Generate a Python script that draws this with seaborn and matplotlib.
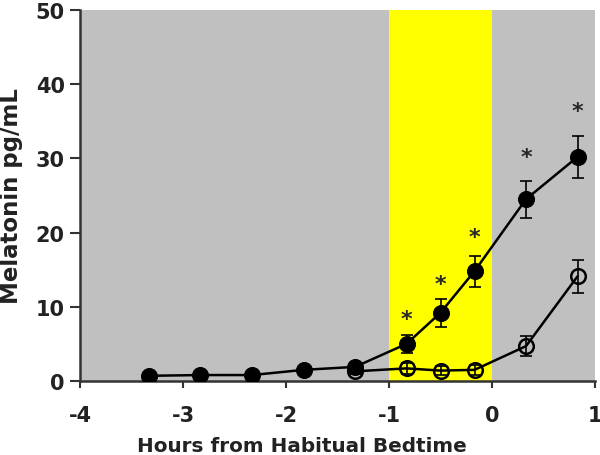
import matplotlib
matplotlib.use("Agg")
import matplotlib.pyplot as plt
import seaborn as sns
import pandas as pd
import numpy as np

# Data
hours_filled = [-3.33, -2.83, -2.33, -1.83, -1.33, -0.83, -0.50, -0.17, 0.33, 0.83]
mel_filled = [0.7, 0.8, 0.8, 1.5, 1.9, 5.0, 9.2, 14.8, 24.5, 30.2]
err_filled = [0.3, 0.3, 0.3, 0.4, 0.5, 1.2, 1.9, 2.1, 2.5, 2.8]

hours_open = [-1.33, -0.83, -0.50, -0.17, 0.33, 0.83]
mel_open = [1.3, 1.7, 1.4, 1.5, 4.7, 14.1]
err_open = [0.4, 0.7, 0.6, 0.7, 1.3, 2.2]

star_x = [-0.83, -0.50, -0.17, 0.33, 0.83]
star_y = [8.4, 13.1, 19.4, 30.2, 36.4]

x_ticks = [-4, -3, -2, -1, 0, 1]
y_ticks = [0, 10, 20, 30, 40, 50]

sns.set_style("ticks")
plt.rcParams['font.family'] = ['DejaVu Sans']
plt.rcParams['font.weight'] = 'bold'

fig = plt.figure(figsize=(6, 4.56), dpi=100)
ax = fig.add_axes([0.1333, 0.1623, 0.8584, 0.8136])
ax.set_facecolor('#c0c0c0')
ax.axvspan(-1, 0, color='#ffff00', zorder=0, lw=0)

df_f = pd.DataFrame({'h': hours_filled, 'm': mel_filled})
df_o = pd.DataFrame({'h': hours_open, 'm': mel_open})

ax.errorbar(hours_open, mel_open, yerr=err_open, fmt='none', ecolor='black',
            elinewidth=1.2, capsize=4, capthick=1.2, zorder=2)
sns.lineplot(data=df_o, x='h', y='m', ax=ax, color='black', lw=1.8,
             marker='o', markersize=10.5, markerfacecolor='none',
             markeredgecolor='black', markeredgewidth=1.8, zorder=3)
ax.errorbar(hours_filled, mel_filled, yerr=err_filled, fmt='none', ecolor='black',
            elinewidth=1.2, capsize=4, capthick=1.2, zorder=4)
sns.lineplot(data=df_f, x='h', y='m', ax=ax, color='black', lw=1.8,
             marker='o', markersize=11.5, markerfacecolor='black',
             markeredgecolor='black', zorder=5)

for sx, sy in zip(star_x, star_y):
    ax.text(sx, sy, '*', ha='center', va='center', fontsize=16, fontweight='bold', zorder=6)

ax.set_xlim(-4, 1)
ax.set_ylim(0, 50)
ax.set_xticks(x_ticks)
ax.set_yticks(y_ticks)
ax.set_xticklabels([str(t) for t in x_ticks], fontsize=15, fontweight='bold', color='#222222')
ax.set_yticklabels([str(t) for t in y_ticks], fontsize=15, fontweight='bold', color='#222222')
ax.set_xlabel('Hours from Habitual Bedtime', fontsize=14.4, fontweight='bold', color='#222222')
ax.xaxis.set_label_coords(0.431, -0.148)
ax.set_ylabel('Melatonin pg/mL', fontsize=16.5, fontweight='bold', color='#222222', labelpad=9)
ax.tick_params(axis='x', direction='out', length=5, width=1.5, color='#333333', pad=12)
ax.tick_params(axis='y', direction='out', length=7, width=1.5, color='#333333', pad=4)
for s in ['top', 'right']:
    ax.spines[s].set_visible(False)
for s in ['left', 'bottom']:
    ax.spines[s].set_linewidth(1.8)
    ax.spines[s].set_color('#333333')

fig.savefig('out.png', dpi=100)
